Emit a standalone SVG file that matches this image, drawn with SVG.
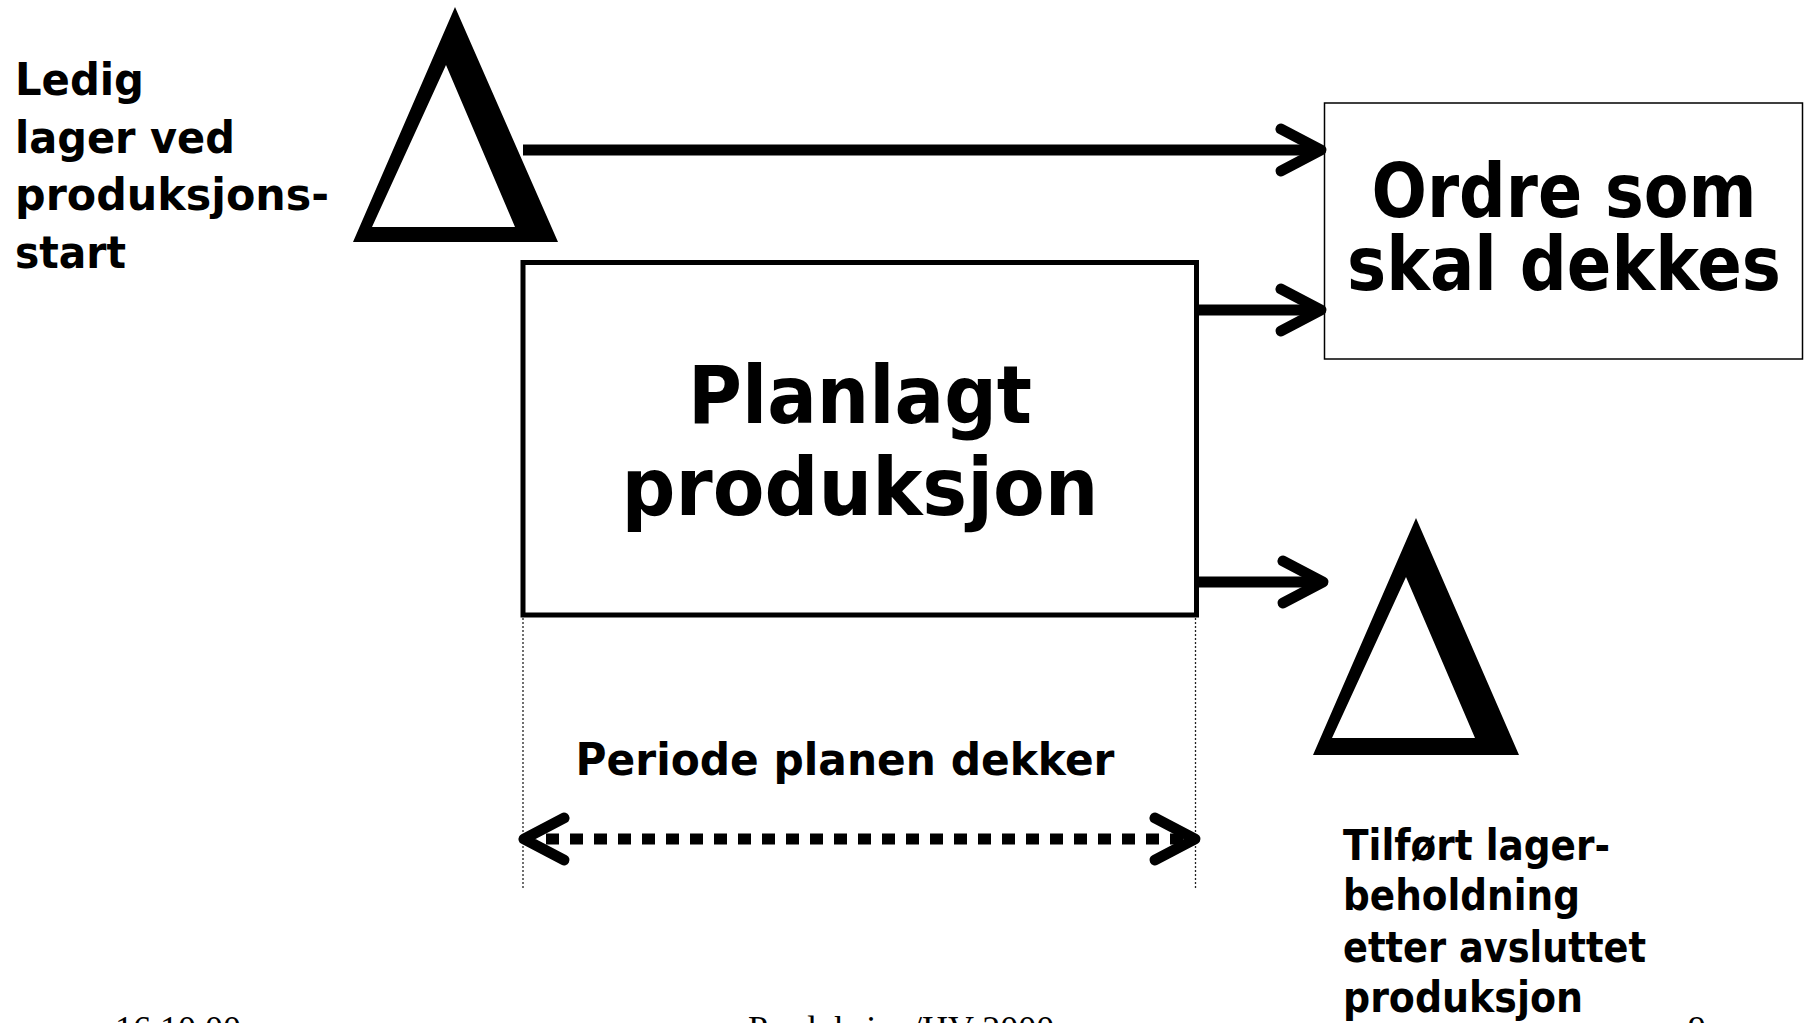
<svg xmlns="http://www.w3.org/2000/svg" width="1805" height="1023" viewBox="0 0 1805 1023">
  <style>
    .lbl { font-family: "DejaVu Sans", "Liberation Sans", sans-serif; font-weight: bold; fill: #000; }
    .foot { font-family: "Liberation Serif", "Times New Roman", serif; font-size: 36px; fill: #000; }
    .stock { fill: #000; fill-rule: evenodd; }
    .box-main { fill: #fff; stroke: #000; stroke-width: 5; }
    .box-thin { fill: #fff; stroke: #000; stroke-width: 1.5; }
    .flow { stroke: #000; stroke-width: 11; fill: none; }
    .dim { stroke: #000; stroke-width: 11; fill: none; stroke-dasharray: 13 11; }
    .guide { stroke: #222; stroke-width: 1.3; fill: none; stroke-dasharray: 2 2; }
  </style>
  <defs>
    <!-- open chevron arrowhead, drawn in user space -->
    <marker id="chev" markerUnits="userSpaceOnUse" markerWidth="80" markerHeight="80" viewBox="-60 -40 80 80" refX="0" refY="0" orient="auto-start-reverse" overflow="visible">
      <path d="M-40,-21 L0,0 L-40,21" fill="none" stroke="#000" stroke-width="11" stroke-linecap="round" stroke-linejoin="round" stroke-dasharray="none"/>
    </marker>
  </defs>

  <rect width="1805" height="1023" fill="#fff"/>

  <!-- stock at start of production -->
  <g id="stock-start">
    <path class="stock" d="M455,7 L558,242 L353,242 Z M446,65 L372,227 L515,227 Z"/>
    <text class="lbl" font-size="44" x="15" y="95" textLength="129" lengthAdjust="spacingAndGlyphs">Ledig</text>
    <text class="lbl" font-size="44" x="15" y="153" textLength="220" lengthAdjust="spacingAndGlyphs">lager ved</text>
    <text class="lbl" font-size="44" x="15" y="210" textLength="314" lengthAdjust="spacingAndGlyphs">produksjons-</text>
    <text class="lbl" font-size="44" x="15" y="268" textLength="111" lengthAdjust="spacingAndGlyphs">start</text>
  </g>

  <!-- planned production -->
  <g id="production">
    <rect class="box-main" x="523" y="262.5" width="673.5" height="352.5"/>
    <text class="lbl" font-size="80" x="860" y="423" text-anchor="middle" textLength="344" lengthAdjust="spacingAndGlyphs">Planlagt</text>
    <text class="lbl" font-size="80" x="860" y="515" text-anchor="middle" textLength="477" lengthAdjust="spacingAndGlyphs">produksjon</text>
  </g>

  <!-- orders to be covered -->
  <g id="orders">
    <rect class="box-thin" x="1324.5" y="103" width="478" height="256"/>
    <text class="lbl" font-size="74" x="1564" y="217" text-anchor="middle" textLength="385" lengthAdjust="spacingAndGlyphs">Ordre som</text>
    <text class="lbl" font-size="74" x="1564" y="290" text-anchor="middle" textLength="434" lengthAdjust="spacingAndGlyphs">skal dekkes</text>
  </g>

  <!-- stock added after production -->
  <g id="stock-end">
    <path class="stock" d="M1416,518 L1519,755 L1313,755 Z M1406,577 L1332,738 L1475,738 Z"/>
    <text class="lbl" font-size="42" x="1343" y="860" textLength="267" lengthAdjust="spacingAndGlyphs">Tilført lager-</text>
    <text class="lbl" font-size="42" x="1343" y="910" textLength="237" lengthAdjust="spacingAndGlyphs">beholdning</text>
    <text class="lbl" font-size="42" x="1343" y="962" textLength="303" lengthAdjust="spacingAndGlyphs">etter avsluttet</text>
    <text class="lbl" font-size="42" x="1343" y="1012" textLength="240" lengthAdjust="spacingAndGlyphs">produksjon</text>
  </g>

  <!-- planning period -->
  <g id="period">
    <line class="guide" x1="523" y1="618" x2="523" y2="889"/>
    <line class="guide" x1="1195.5" y1="618" x2="1195.5" y2="889"/>
    <text class="lbl" font-size="44" x="575.5" y="775" textLength="539" lengthAdjust="spacingAndGlyphs">Periode planen dekker</text>
  </g>

  <!-- flows -->
  <g id="connectors">
    <line class="flow" x1="523" y1="150" x2="1321" y2="150" marker-end="url(#chev)"/>
    <line class="flow" x1="1199" y1="310" x2="1321" y2="310" marker-end="url(#chev)"/>
    <line class="flow" x1="1199" y1="582" x2="1323" y2="582" marker-end="url(#chev)"/>
    <line class="dim" x1="546" y1="839" x2="1190" y2="839"/>
    <path d="M524,839 H1195" fill="none" stroke="none" marker-start="url(#chev)" marker-end="url(#chev)"/>
  </g>

  <!-- page footer -->
  <g id="footer">
    <text class="foot" x="115" y="1041">16.10.00</text>
    <text class="foot" x="748" y="1041">Produksjon/HV 2000</text>
    <text class="foot" x="1688" y="1041">9</text>
  </g>
</svg>
